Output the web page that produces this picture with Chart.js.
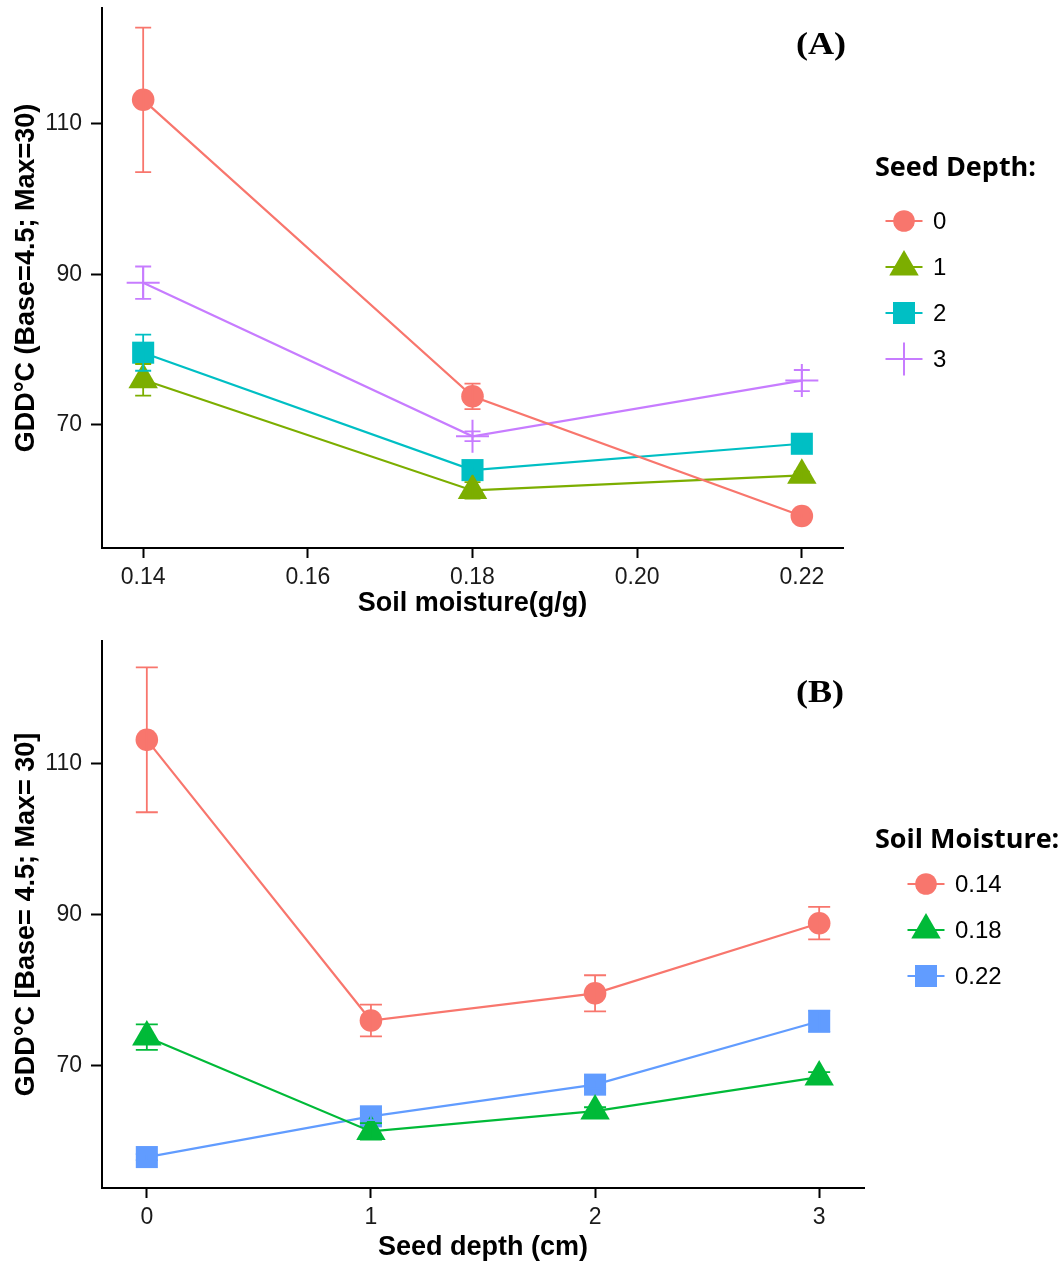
<!DOCTYPE html>
<html><head><meta charset="utf-8">
<script src="https://cdn.jsdelivr.net/npm/chart.js@4/dist/chart.umd.min.js"></script>
<style>
html,body{margin:0;padding:0;background:#fff;width:1064px;height:1264px;overflow:hidden}
canvas{position:absolute;left:0}
#cA{top:0}
#cB{top:630px}
</style></head><body>
<canvas id="cA" width="1064" height="630"></canvas>
<canvas id="cB" width="1064" height="634"></canvas>
<script>
// ---- data ----
const soilMoisture = [0.14, 0.18, 0.22];
const seedDepth = [0, 1, 2, 3];
const gddDepth0 = [113.2, 73.8, 57.9];
const gddDepth1 = [76.0, 61.3, 63.3];
const gddDepth2 = [79.6, 64.0, 67.5];
const gddDepth3 = [88.9, 68.5, 75.9];
const seDepth0 = [9.6, 1.7, 0.4];
const seDepth1 = [2.1, 1.1, 0.5];
const seDepth2 = [2.4, 0.5, 0.5];
const seDepth3 = [2.15, 0.65, 1.4];
const yTicks = [70, 90, 110];
const xTicksA = [0.14, 0.16, 0.18, 0.20, 0.22];
const xTicksB = [0, 1, 2, 3];
const depthLabels = ['0', '1', '2', '3'];
const moistureLabels = ['0.14', '0.18', '0.22'];

const FONT = "'Liberation Sans', Arial, sans-serif";
const gddByDepth = [gddDepth0, gddDepth1, gddDepth2, gddDepth3];
const seByDepth = [seDepth0, seDepth1, seDepth2, seDepth3];

const colsA = ['#F8766D', '#7CAE00', '#00BFC4', '#C77CFF'];
const stylesA = [
  {pointStyle:'circle', pointRadius:11.3, pointBorderWidth:0},
  {pointStyle:'triangle', pointRadius:17, pointBorderWidth:0},
  {pointStyle:'rect', pointRadius:15.6, pointBorderWidth:0},
  {pointStyle:'cross', pointRadius:16.5, pointBorderWidth:2}
];
const colsB = ['#F8766D', '#00BA38', '#619CFF'];
const stylesB = [stylesA[0], stylesA[1], stylesA[2]];

function drawMarker(ctx, style, radius, bw, color, x, y){
  ctx.save();
  ctx.fillStyle = color; ctx.strokeStyle = color; ctx.lineWidth = bw || 0;
  if (Chart.helpers && Chart.helpers.drawPoint) {
    Chart.helpers.drawPoint(ctx, {pointStyle: style, radius: radius, rotation: 0, borderWidth: bw || 0}, x, y);
  }
  ctx.restore();
}

const errorBarPlugin = {
  id: 'errbars',
  afterDatasetsDraw(chart, args, opts) {
    const ctx = chart.ctx, ys = chart.scales.y;
    chart.data.datasets.forEach((ds, i) => {
      const meta = chart.getDatasetMeta(i);
      ctx.save();
      ctx.strokeStyle = ds.borderColor; ctx.lineWidth = 1.8;
      meta.data.forEach((pt, j) => {
        const v = ds.data[j].y, e = ds.errors[j];
        const yt = ys.getPixelForValue(v + e), yb = ys.getPixelForValue(v - e);
        const hw = opts.capHalf;
        ctx.beginPath();
        ctx.moveTo(pt.x, yt); ctx.lineTo(pt.x, yb);
        ctx.moveTo(pt.x - hw, yt); ctx.lineTo(pt.x + hw, yt);
        ctx.moveTo(pt.x - hw, yb); ctx.lineTo(pt.x + hw, yb);
        ctx.stroke();
      });
      ctx.restore();
    });
  }
};

const legendPlugin = {
  id: 'ggLegend',
  afterDraw(chart, args, o) {
    const ctx = chart.ctx;
    ctx.save();
    ctx.fillStyle = '#000';
    ctx.font = "bold 27px 'Open Sans', 'Noto Sans', sans-serif";
    ctx.textBaseline = 'middle'; ctx.textAlign = 'left';
    ctx.fillText(o.title, o.titleX, o.titleY);
    chart.data.datasets.forEach((ds, i) => {
      const y = o.firstY + i * o.step;
      ctx.strokeStyle = ds.borderColor; ctx.lineWidth = 2.2;
      ctx.beginPath(); ctx.moveTo(o.markX - 18.5, y); ctx.lineTo(o.markX + 18.5, y); ctx.stroke();
      let r = ds.pointRadius;
      if (ds.pointStyle === 'circle') r = 10.8;
      drawMarker(ctx, ds.pointStyle, r, ds.pointBorderWidth, ds.borderColor, o.markX, y);
      ctx.fillStyle = '#000';
      ctx.font = "24px " + FONT;
      ctx.fillText(ds.label, o.textX, y + 1);
    });
    ctx.restore();
  }
};

const panelLabelPlugin = {
  id: 'panelLabel',
  afterDraw(chart, args, o) {
    const ctx = chart.ctx;
    ctx.save();
    ctx.fillStyle = '#000';
    ctx.font = "bold 32px 'Liberation Serif', 'Times New Roman', serif";
    ctx.textAlign = 'center'; ctx.textBaseline = 'middle';
    ctx.translate(o.x, o.y);
    ctx.scale(1.13, 1);
    ctx.fillText(o.text, 0, 0);
    ctx.restore();
  }
};

function axisCommon() {
  return {
    grid: {drawOnChartArea: false, drawTicks: true, tickLength: 10, tickWidth: 2, tickColor: '#000'},
    border: {display: true, color: '#000', width: 2}
  };
}
function noPad(s) { s.paddingTop = 0; s.paddingBottom = 0; s.paddingLeft = 0; s.paddingRight = 0; }

function makeChart(id, cfg) {
  const datasets = cfg.series.map((s, i) => Object.assign({
    label: s.label,
    data: cfg.xVals.map((xv, k) => ({x: xv, y: s.values[k]})),
    errors: s.errors,
    borderColor: cfg.colors[i],
    backgroundColor: cfg.colors[i],
    pointBackgroundColor: cfg.colors[i],
    pointBorderColor: cfg.colors[i],
    borderWidth: 2.2,
    tension: 0,
    clip: false,
    pointHoverRadius: cfg.styles[i].pointRadius
  }, cfg.styles[i]));
  const cA = axisCommon(), cB = axisCommon();
  cB.grid.tickLength = 11;
  return new Chart(document.getElementById(id), {
    type: 'line',
    data: {datasets},
    options: {
      responsive: false, animation: false, events: [],
      layout: {padding: cfg.padding, autoPadding: false},
      plugins: {
        legend: {display: false}, tooltip: {enabled: false},
        errbars: {capHalf: cfg.capHalf},
        ggLegend: cfg.legend,
        panelLabel: cfg.panel
      },
      scales: {
        x: Object.assign(cA, {
          type: 'linear', min: cfg.xMin, max: cfg.xMax,
          afterBuildTicks: s => { s.ticks = cfg.xTicks.map(v => ({value: v})); },
          afterFit: s => { s.height = cfg.xHeight; noPad(s); },
          ticks: {callback: cfg.xFmt, font: {family: FONT, size: 23}, color: '#1a1a1a', padding: 6, maxRotation: 0, autoSkip: false},
          title: {display: true, text: cfg.xTitle, color: '#000', font: {family: FONT, size: 27, weight: 'bold'}, padding: {top: 0, bottom: cfg.xTitlePad}}
        }),
        y: Object.assign(cB, {
          type: 'linear', min: cfg.yMin, max: cfg.yMax,
          afterBuildTicks: s => { s.ticks = yTicks.map(v => ({value: v})); },
          afterFit: s => { s.width = 102; noPad(s); },
          ticks: {font: {family: FONT, size: 23}, color: '#1a1a1a', padding: 9},
          title: {display: true, text: cfg.yTitle, color: '#000', font: {family: FONT, size: 27, weight: 'bold'}, padding: {top: 10, bottom: 0}}
        })
      }
    },
    plugins: [errorBarPlugin, legendPlugin, panelLabelPlugin]
  });
}

// Panel A: x = soil moisture, series = seed depth
makeChart('cA', {
  xVals: soilMoisture,
  series: seedDepth.map((d, i) => ({label: depthLabels[i], values: gddByDepth[i], errors: seByDepth[i]})),
  colors: colsA, styles: stylesA,
  padding: {left: 0, right: 221, top: 8, bottom: 0},
  xMin: 0.135, xMax: 0.225, xTicks: xTicksA, xFmt: v => Number(v).toFixed(2),
  xHeight: 82, xTitlePad: 10, xTitle: 'Soil moisture(g/g)',
  yMin: 53.65, yMax: 125.4, yTitle: 'GDD°C (Base=4.5; Max=30)',
  capHalf: 8,
  legend: {title: 'Seed Depth:', titleX: 875, titleY: 168, markX: 904, textX: 933, firstY: 221, step: 46},
  panel: {text: '(A)', x: 821, y: 46}
});

// Panel B: x = seed depth, series = soil moisture (same measurements, transposed)
makeChart('cB', {
  xVals: seedDepth,
  series: soilMoisture.map((m, k) => ({
    label: moistureLabels[k],
    values: gddByDepth.map(arr => arr[k]),
    errors: seByDepth.map(arr => arr[k])
  })),
  colors: colsB, styles: stylesB,
  padding: {left: 0, right: 200, top: 11, bottom: 0},
  xMin: -0.2, xMax: 3.2, xTicks: xTicksB, xFmt: v => String(v),
  xHeight: 76, xTitlePad: 0, xTitle: 'Seed depth (cm)',
  yMin: 53.8, yMax: 126.3, yTitle: 'GDD°C [Base= 4.5; Max= 30]',
  capHalf: 11,
  legend: {title: 'Soil Moisture:', titleX: 875, titleY: 210, markX: 926, textX: 955, firstY: 254, step: 46},
  panel: {text: '(B)', x: 820, y: 64}
});
</script>
</body></html>
